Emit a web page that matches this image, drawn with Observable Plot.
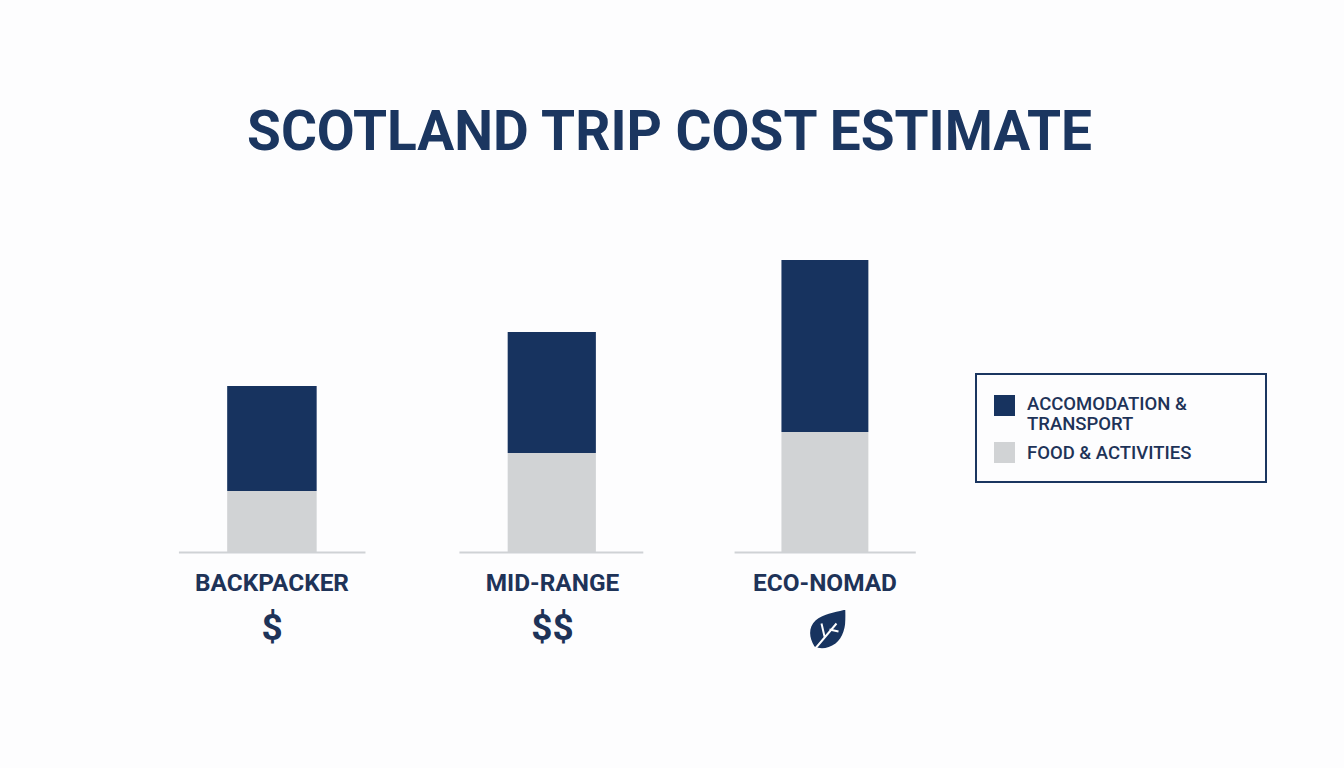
<!DOCTYPE html>
<html><head><meta charset="utf-8">
<script src="https://cdn.jsdelivr.net/npm/d3@7"></script>
<script src="https://cdn.jsdelivr.net/npm/@observablehq/plot@0.6"></script>
<style>
html,body{margin:0;padding:0;background:#fdfdfe;font-family:Roboto,sans-serif;}
#wrap{position:relative;width:1344px;height:768px;overflow:hidden;}
#title{position:absolute;left:0;width:1339px;top:97px;margin:0;text-align:center;font:700 55px/68px Roboto,sans-serif;color:#1b3660;}
#legend{position:absolute;left:975px;top:373px;width:288px;height:106px;border:2px solid #1b3660;font:500 18.5px/20px Roboto,sans-serif;color:#1e3358;}
.row{position:absolute;left:50px;width:220px;}
.sw{position:absolute;left:17px;width:21px;height:21px;}
#chart{position:absolute;left:0;top:0;}
svg{display:block;background:transparent;}
</style></head>
<body><div id="wrap">
<h1 id="title"></h1>
<div id="chart"></div>
<div id="legend"></div>
</div>
<script>
const titleText = "SCOTLAND TRIP COST ESTIMATE";
const tiers = ["BACKPACKER", "MID-RANGE", "ECO-NOMAD"];
const series = ["FOOD & ACTIVITIES", "ACCOMODATION & TRANSPORT"];
const foodValues = [61, 99, 120];
const accommodationValues = [105, 121, 172];
const tierIcons = ["$", "$$", ""];
const navy = "#17335f", grey = "#d1d3d5", ink = "#1e3358";

const rows = tiers.flatMap((tier, i) => [
  {i, tier, series: series[0], base: 0, top: foodValues[i]},
  {i, tier, series: series[1], base: foodValues[i], top: foodValues[i] + accommodationValues[i]}
]);
const idx = tiers.map((_, i) => i);
const leaf = "data:image/svg+xml," + encodeURIComponent(
`<svg xmlns="http://www.w3.org/2000/svg" viewBox="0 0 36 40"><path d="M36 0C37 13 35 27 26 34C19 39 11 40 5 37C-1 27 -1 18 6 11C14 4 26 3 36 0Z" fill="#17335f"/><path d="M5 40L27 14M15 27L12 14M20 20L29 22" stroke="#fdfdfe" stroke-width="2" fill="none"/></svg>`);

const chart = Plot.plot({
  width: 1344, height: 768,
  marginTop: 0, marginRight: 0, marginBottom: 0, marginLeft: 0,
  style: {background: "transparent"},
  x: {type: "linear", domain: [0, 1, 2], range: [271.5, 552, 824.5], axis: null},
  y: {domain: [-216, 552], range: [768, 0], axis: null},
  color: {domain: series, range: [grey, navy]},
  marks: [
    Plot.rect(rows, {x1: d => d.i - 0.158, x2: d => d.i + 0.161, y1: "base", y2: "top", fill: "series"}),
    Plot.ruleY(idx, {x1: d => d - 0.33, x2: d => d + 0.335, y: () => 0, stroke: "#cfd2d5", strokeWidth: 2}),
    Plot.text(idx, {x: d => d, y: () => 0, text: d => tiers[d], dy: 31, fill: ink, fontFamily: "Roboto", fontWeight: 700, fontSize: 24.4}),
    Plot.text(idx, {x: d => d, y: () => 0, text: d => tierIcons[d], dy: 76, fill: ink, fontFamily: "Roboto", fontWeight: 700, fontSize: 37, letterSpacing: 3}),
    Plot.image([2], {x: d => d, y: () => 0, src: () => leaf, width: 36, height: 40, dy: 77, dx: 2.5})
  ]
});
document.getElementById("chart").appendChild(chart);
document.getElementById("title").textContent = titleText;

const legend = document.getElementById("legend");
[{label: ["ACCOMODATION &", "TRANSPORT"], color: navy, swTop: 20, top: 19},
 {label: [series[0]], color: grey, swTop: 67, top: 68}].forEach(item => {
  const sw = document.createElement("div");
  sw.className = "sw"; sw.style.top = item.swTop + "px"; sw.style.background = item.color;
  legend.appendChild(sw);
  const row = document.createElement("div");
  row.className = "row"; row.style.top = item.top + "px";
  item.label.forEach((line, k) => {
    if (k) row.appendChild(document.createElement("br"));
    row.appendChild(document.createTextNode(line));
  });
  legend.appendChild(row);
});
</script>
</body></html>
